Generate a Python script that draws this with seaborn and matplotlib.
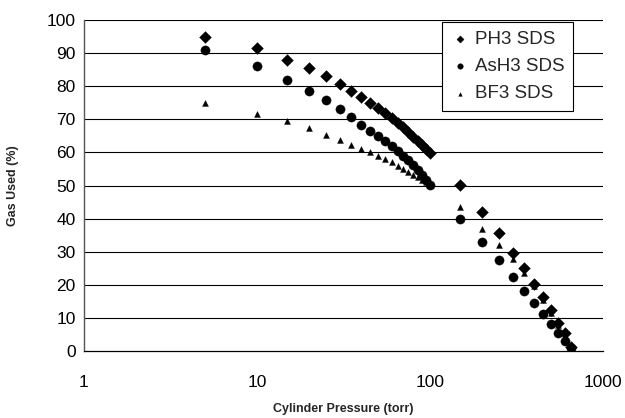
import numpy as np
import pandas as pd
import matplotlib
matplotlib.use("Agg")
import matplotlib.pyplot as plt
import seaborn as sns

# pressure points (torr), same for the three series
pressure = [5, 10, 15, 20, 25, 30, 35, 40, 45, 50, 55, 60, 65, 70, 75, 80, 85, 90, 95, 100,
            150, 200, 250, 300, 350, 400, 450, 500, 550, 600, 650]

# gas used (%)
ph3 = [95, 91.5, 88, 85.5, 83, 80.7, 78.6, 76.8, 75, 73.3, 71.9, 70.4, 69, 67.6, 66.2, 64.8, 63.5, 62.2, 61, 59.8,
       50.2, 42, 35.6, 29.7, 25, 20.2, 16.4, 12.5, 8.4, 5.4, 1.3]
ash3 = [91, 86, 82, 78.6, 75.8, 73.1, 70.6, 68.2, 66.5, 65, 63.5, 62, 60.5, 59, 57.6, 56.2, 54.8, 53.3, 51.8, 50.2,
        40, 33, 27.5, 22.5, 18.2, 14.5, 11.2, 8.2, 5.5, 3, 1]
bf3 = [75, 71.5, 69.6, 67.4, 65.2, 63.7, 62.2, 61, 60, 59, 58, 57, 56, 55, 54.2, 53.3, 52.5, 51.7, 51, 50.2,
       43.6, 37, 32, 27.7, 23.7, 19.5, 15.5, 11.5, 8, 4.5, 1.2]

series = ["PH3 SDS", "AsH3 SDS", "BF3 SDS"]

df = pd.DataFrame({
    "pressure": pressure * 3,
    "used": ph3 + ash3 + bf3,
    "series": np.repeat(series, len(pressure)),
})

sns.set_style("white")
plt.rcParams["font.family"] = ["Liberation Sans", "DejaVu Sans"]

fig = plt.figure(figsize=(6.25, 4.18), dpi=100)
ax = fig.add_axes([0.1344, 0.1603, 0.8304, 0.7917])

markers = {"PH3 SDS": "D", "AsH3 SDS": "o", "BF3 SDS": "^"}
sizes = {"PH3 SDS": 36, "AsH3 SDS": 44, "BF3 SDS": 18}
for s in series:
    sub = df[df["series"] == s]
    sns.scatterplot(data=sub, x="pressure", y="used", marker=markers[s], s=sizes[s],
                    color="black", edgecolor="black", linewidth=0.3, label=s, ax=ax, zorder=3)

ax.set_xscale("log")
ax.set_xlim(1, 1000)
ax.set_ylim(0, 100)
ax.set_yticks(range(0, 101, 10))
ax.set_xticks([1, 10, 100, 1000])
ax.set_xticklabels(["1", "10", "100", "1000"])
ax.xaxis.set_minor_locator(matplotlib.ticker.NullLocator())
ax.tick_params(axis="both", labelsize=12.5, direction="out", length=3, width=0.8, colors="black")
ax.tick_params(axis="x", pad=14)
ax.tick_params(axis="y", pad=3)

for v in range(10, 101, 10):
    ax.axhline(v, color="black", lw=0.8, zorder=1)

for side in ["top", "right"]:
    ax.spines[side].set_visible(False)
ax.spines["left"].set_color("#555555")
ax.spines["left"].set_linewidth(1.0)
ax.spines["bottom"].set_color("black")
ax.spines["bottom"].set_linewidth(0.9)

ax.set_xlabel("Cylinder Pressure (torr)", fontsize=9, fontweight="bold", labelpad=10)
ax.set_ylabel("Gas Used (%)", fontsize=9, fontweight="bold", labelpad=20)

leg = ax.legend(loc="upper right", bbox_to_anchor=(0.942, 0.994), fontsize=13.5,
                frameon=True, fancybox=False, edgecolor="black", handletextpad=0.3,
                handlelength=1.0, borderpad=0.45, labelspacing=0.55, markerscale=0.6,
                borderaxespad=0)
leg.get_frame().set_linewidth(0.8)
leg.get_frame().set_facecolor("white")
leg.get_frame().set_alpha(1)

fig.savefig("out.png", dpi=100)
